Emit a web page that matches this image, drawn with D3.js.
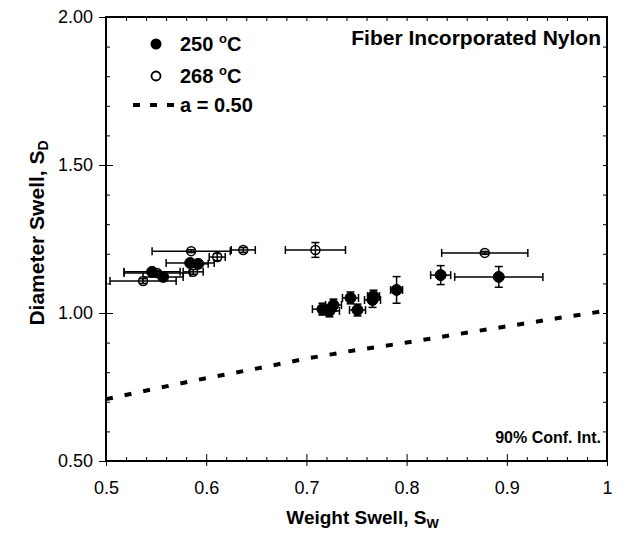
<!DOCTYPE html>
<html>
<head>
<meta charset="utf-8">
<script src="https://d3js.org/d3.v7.min.js"></script>
<style>
  body { margin: 0; background: #fff; }
  text { font-family: "Liberation Sans", Arial, sans-serif; fill: #000; }
</style>
</head>
<body>
<div id="chart"></div>
<script>
// 250 °C (filled)
const sw250 = [0.546, 0.557, 0.584, 0.592, 0.716, 0.723, 0.727, 0.744, 0.751, 0.766, 0.767, 0.790, 0.834, 0.892];
const sd250 = [1.139, 1.122, 1.169, 1.166, 1.013, 1.007, 1.027, 1.051, 1.010, 1.044, 1.057, 1.078, 1.128, 1.122];
const sw250Err = [0.028, 0.020, 0.024, 0.010, 0.010, 0.010, 0.008, 0.008, 0.008, 0.008, 0.006, 0.006, 0.010, 0.044];
const sd250Err = [0.010, 0.010, 0.010, 0.010, 0.020, 0.020, 0.020, 0.020, 0.020, 0.025, 0.020, 0.045, 0.032, 0.035];

// 268 °C (open)
const sw268 = [0.537, 0.551, 0.585, 0.587, 0.611, 0.637, 0.709, 0.878];
const sd268 = [1.108, 1.135, 1.209, 1.139, 1.189, 1.213, 1.213, 1.203];
const sw268Err = [0.033, 0.033, 0.039, 0.010, 0.008, 0.012, 0.030, 0.043];
const sd268Err = [0.008, 0.008, 0.005, 0.008, 0.012, 0.008, 0.025, 0.005];

// a = 0.50 curve
const curveSw = [0.50, 0.55, 0.60, 0.65, 0.70, 0.75, 0.80, 0.85, 0.90, 0.95, 1.00];
const curveSd = [0.709, 0.745, 0.78, 0.812, 0.846, 0.875, 0.90, 0.928, 0.955, 0.982, 1.008];

const xTicks = [0.5, 0.6, 0.7, 0.8, 0.9, 1.0];
const xTickLabels = ["0.5", "0.6", "0.7", "0.8", "0.9", "1"];
const yTicks = [0.5, 1.0, 1.5, 2.0];
const yTickLabels = ["0.50", "1.00", "1.50", "2.00"];

var margin = { top: 17, right: 34, bottom: 77, left: 106 },
  width = 641 - margin.left - margin.right,
  height = 538 - margin.top - margin.bottom;

var svg = d3.select("#chart")
  .append("svg")
  .attr("width", 641)
  .attr("height", 538)
  .append("g")
  .attr("transform", "translate(" + margin.left + "," + margin.top + ")");

var x = d3.scaleLinear().domain([0.5, 1.0]).range([0, width]);
var y = d3.scaleLinear().domain([0.5, 2.0]).range([height, 0]);

// minor ticks (inward) on all four sides
var xMinor = d3.range(0.52, 1.0, 0.02).filter(v => Math.abs(v * 10 - Math.round(v * 10)) > 0.01);
var yMinor = d3.range(0.6, 2.0, 0.1).filter(v => Math.abs(v * 2 - Math.round(v * 2)) > 0.01);

svg.append("g").attr("transform", "translate(0," + height + ")")
  .call(d3.axisTop(x).tickValues(xMinor).tickSize(4).tickFormat(""))
  .call(g => g.select(".domain").remove());
svg.append("g")
  .call(d3.axisBottom(x).tickValues(xMinor.concat(xTicks)).tickSize(4).tickFormat(""))
  .call(g => g.select(".domain").remove());
svg.append("g")
  .call(d3.axisRight(y).tickValues(yMinor).tickSize(4).tickFormat(""))
  .call(g => g.select(".domain").remove());
svg.append("g").attr("transform", "translate(" + width + ",0)")
  .call(d3.axisLeft(y).tickValues(yMinor.concat(yTicks)).tickSize(4).tickFormat(""))
  .call(g => g.select(".domain").remove());

// major ticks: crossing the axis
var xAxis = svg.append("g").attr("transform", "translate(0," + height + ")")
  .call(d3.axisBottom(x).tickValues(xTicks).tickSize(5).tickPadding(15)
    .tickFormat((d, i) => xTickLabels[i]));
xAxis.selectAll(".tick line").attr("y1", -7);
xAxis.selectAll("text").style("font-size", "18px");
xAxis.select(".domain").remove();

var yAxis = svg.append("g")
  .call(d3.axisLeft(y).tickValues(yTicks).tickSize(7).tickPadding(6)
    .tickFormat((d, i) => yTickLabels[i]));
yAxis.selectAll(".tick line").attr("x1", 7).attr("x2", -7);
yAxis.selectAll("text").style("font-size", "18px");
yAxis.select(".domain").remove();

svg.selectAll(".tick line").attr("stroke", "#000").attr("stroke-width", 1);

// frame
svg.append("rect")
  .attr("x", 0).attr("y", 0)
  .attr("width", width).attr("height", height)
  .attr("fill", "none").attr("stroke", "#000").attr("stroke-width", 2);

// a = 0.50 dashed curve
var line = d3.line().x(d => x(d[0])).y(d => y(d[1]));
svg.append("path")
  .datum(curveSw.map((v, i) => [v, curveSd[i]]))
  .attr("d", line)
  .attr("fill", "none")
  .attr("stroke", "#000")
  .attr("stroke-width", 4)
  .attr("stroke-dasharray", "7,12");

// error bars + markers
function drawSeries(sw, sd, swErr, sdErr, filled) {
  var data = sw.map((v, i) => ({ x: v, y: sd[i], ex: swErr[i], ey: sdErr[i] }));
  var g = svg.append("g");
  var cap = 4;
  data.forEach(function (d) {
    var e = g.append("g").attr("stroke", "#000").attr("stroke-width", 1.5);
    e.append("line").attr("x1", x(d.x - d.ex)).attr("x2", x(d.x + d.ex))
      .attr("y1", y(d.y)).attr("y2", y(d.y));
    e.append("line").attr("x1", x(d.x - d.ex)).attr("x2", x(d.x - d.ex))
      .attr("y1", y(d.y) - cap).attr("y2", y(d.y) + cap);
    e.append("line").attr("x1", x(d.x + d.ex)).attr("x2", x(d.x + d.ex))
      .attr("y1", y(d.y) - cap).attr("y2", y(d.y) + cap);
    e.append("line").attr("x1", x(d.x)).attr("x2", x(d.x))
      .attr("y1", y(d.y - d.ey)).attr("y2", y(d.y + d.ey));
    e.append("line").attr("x1", x(d.x) - cap).attr("x2", x(d.x) + cap)
      .attr("y1", y(d.y - d.ey)).attr("y2", y(d.y - d.ey));
    e.append("line").attr("x1", x(d.x) - cap).attr("x2", x(d.x) + cap)
      .attr("y1", y(d.y + d.ey)).attr("y2", y(d.y + d.ey));
  });
  g.selectAll("circle")
    .data(data)
    .enter()
    .append("circle")
    .attr("cx", d => x(d.x))
    .attr("cy", d => y(d.y))
    .attr("r", filled ? 5.5 : 4.5)
    .attr("fill", filled ? "#000" : "none")
    .attr("stroke", "#000")
    .attr("stroke-width", filled ? 1 : 1.5);
}
drawSeries(sw268, sd268, sw268Err, sd268Err, false);
drawSeries(sw250, sd250, sw250Err, sd250Err, true);

// legend
var lg = svg.append("g");
lg.append("circle").attr("cx", 50).attr("cy", 27).attr("r", 5.5).attr("fill", "#000");
lg.append("circle").attr("cx", 50).attr("cy", 59).attr("r", 4.5)
  .attr("fill", "none").attr("stroke", "#000").attr("stroke-width", 1.8);
lg.append("line").attr("x1", 27).attr("x2", 68).attr("y1", 88).attr("y2", 88)
  .attr("stroke", "#000").attr("stroke-width", 4).attr("stroke-dasharray", "7,10");

function tempLabel(ty, val) {
  var t = lg.append("text").attr("x", 74).attr("y", ty)
    .style("font-size", "20px").style("font-weight", "bold");
  t.append("tspan").text(val + " ");
  t.append("tspan").attr("dy", -8).style("font-size", "13px").text("o");
  t.append("tspan").attr("dy", 8).text("C");
}
tempLabel(34, "250");
tempLabel(66, "268");
lg.append("text").attr("x", 74).attr("y", 95)
  .style("font-size", "20px").style("font-weight", "bold").text("a = 0.50");

svg.append("text").attr("x", width - 6).attr("y", 28)
  .attr("text-anchor", "end")
  .style("font-size", "21px").style("font-weight", "bold")
  .text("Fiber Incorporated Nylon");

svg.append("text").attr("x", width - 6).attr("y", height - 18)
  .attr("text-anchor", "end")
  .style("font-size", "16px").style("font-weight", "bold")
  .text("90% Conf. Int.");

// axis titles
var xt = svg.append("text").attr("x", width / 2 + 6).attr("y", height + 63)
  .attr("text-anchor", "middle")
  .style("font-size", "19px").style("font-weight", "bold");
xt.append("tspan").text("Weight Swell, S");
xt.append("tspan").attr("dy", 4).style("font-size", "13px").text("W");

var yt = svg.append("text")
  .attr("transform", "translate(-62," + (height / 2 - 6) + ") rotate(-90)")
  .attr("text-anchor", "middle")
  .style("font-size", "21px").style("font-weight", "bold");
yt.append("tspan").text("Diameter Swell, S");
yt.append("tspan").attr("dy", 4).style("font-size", "14px").text("D");
</script>
</body>
</html>
